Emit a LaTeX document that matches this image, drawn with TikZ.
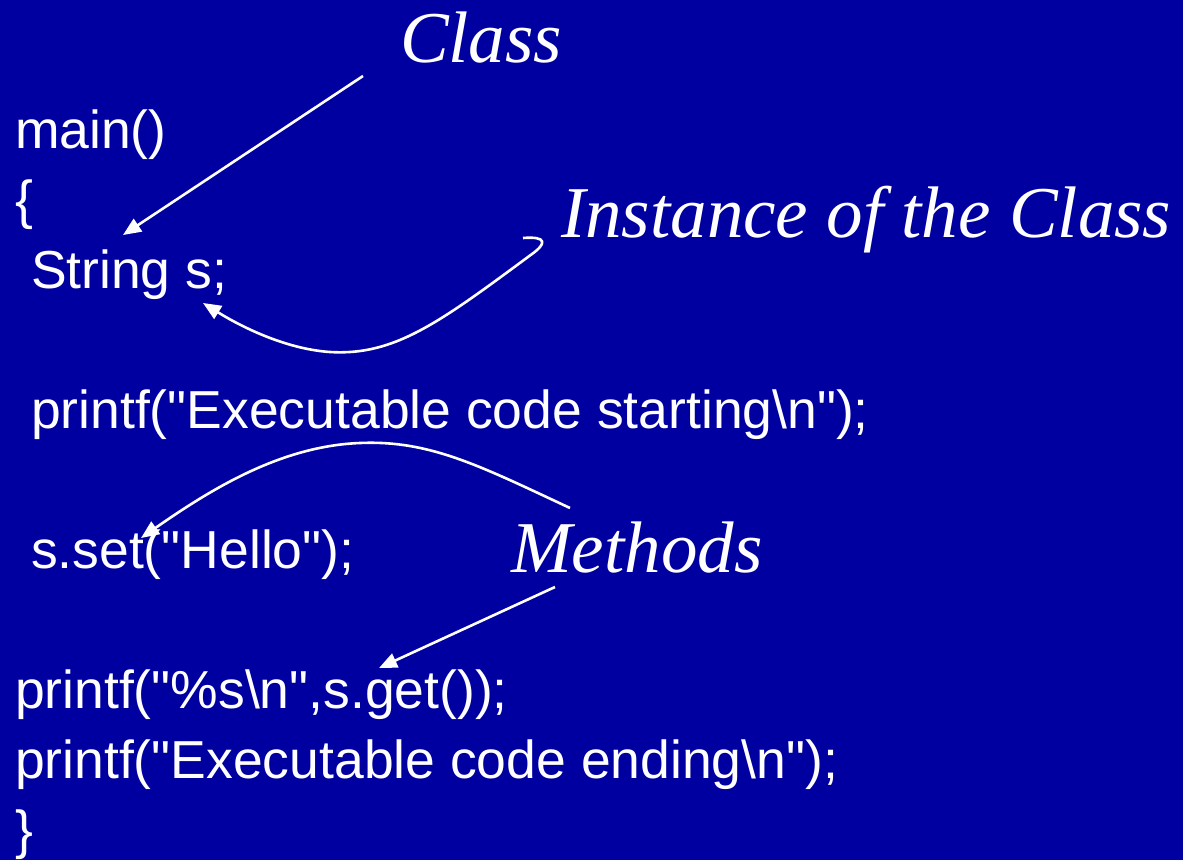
\documentclass[tikz,border=0pt]{standalone}
\usepackage{fontspec}
\setmainfont{Liberation Sans}[Ligatures=TeXOff]
\newfontfamily\labelfont{Liberation Serif}
\usetikzlibrary{arrows.meta}
\definecolor{slideblue}{RGB}{0,0,160}
\newcommand\dq{\symbol{34}}
\tikzset{
  code/.style={anchor=base west, inner sep=0pt, outer sep=0pt, text=white,
    font=\fontsize{53.5}{60}\selectfont},
  note/.style={anchor=base west, inner sep=0pt, outer sep=0pt, text=white,
    font=\labelfont\itshape\fontsize{73}{80}\selectfont},
  pointer/.style={draw=white, line width=2.6pt,
    -{Triangle[length=18pt,width=15pt]}},
}
\begin{document}
\begin{tikzpicture}[x=1pt,y=-1pt]
  \fill[slideblue] (0,0) rectangle (1183,860);
  \useasboundingbox (0,0) rectangle (1183,860);

  % program text
  \node[code] (main)  at (15,148) {main()};
  \node[code] (open)  at (15,218) {\{};
  \node[code] (decl)  at (31,288) {String s;};
  \node[code] (start) at (31,428) {printf(\dq Executable code starting\textbackslash n\dq);};
  \node[code] (set)   at (31,568) {s.set(\dq Hello\dq);};
  \node[code] (get)   at (15,708) {printf(\dq\%s\textbackslash n\dq,s.get());};
  \node[code] (end)   at (15,778) {printf(\dq Executable code ending\textbackslash n\dq);};
  \node[code] (close) at (15,848) {\}};

  % annotations
  \node[note] (cls)  at (400,62)  {Class};
  \node[note] (inst) at (561,237) {Instance of the Class};
  \node[note] (meth) at (511,572) {Methods};

  % connector ends
  \coordinate (clsA)  at (363,76);
  \coordinate (clsB)  at (123,235);
  \coordinate (instA) at (523,238);
  \coordinate (instB) at (203,303);
  \coordinate (setA)  at (570,508);
  \coordinate (setB)  at (141,538);
  \coordinate (getA)  at (555,587);
  \coordinate (getB)  at (379,668);

  \draw[pointer] (clsA) -- (clsB);
  \draw[pointer] (instA) .. controls (548,236) and (546,244) .. (532,254)
      .. controls (440,322) and (395,356) .. (330,352)
      .. controls (285,349) and (240,326) .. (instB);
  \draw[pointer] (setA) .. controls (480,466) and (430,440) .. (360,443)
      .. controls (280,446) and (210,490) .. (setB);
  \draw[pointer] (getA) -- (getB);
\end{tikzpicture}
\end{document}
